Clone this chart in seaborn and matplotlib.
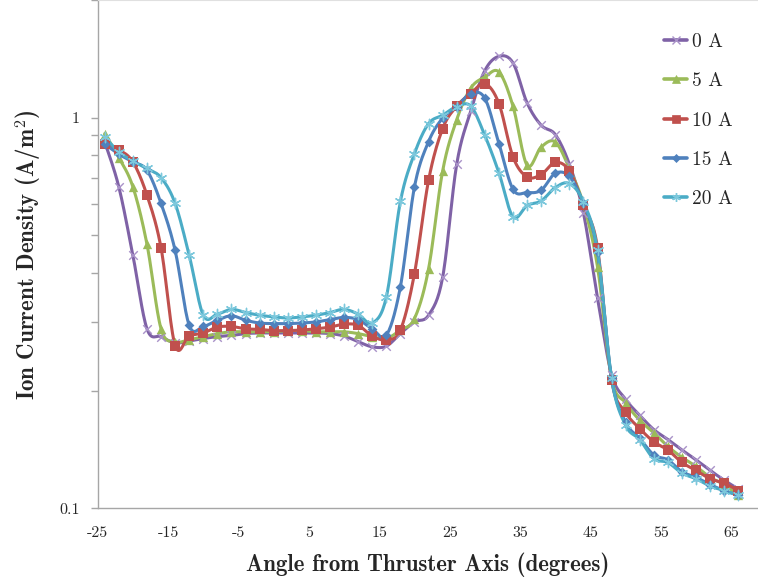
import numpy as np
import pandas as pd
import matplotlib
matplotlib.use("Agg")
import matplotlib.pyplot as plt
from matplotlib.lines import Line2D
import seaborn as sns

angles = list(range(-24, 67, 2))

s0 = [0.866, 0.665, 0.444, 0.288, 0.275, 0.265, 0.268, 0.272, 0.275, 0.277, 0.280, 0.281,
      0.281, 0.281, 0.281, 0.281, 0.280, 0.276, 0.267, 0.259, 0.260, 0.280, 0.300, 0.312,
      0.390, 0.760, 1.040, 1.320, 1.435, 1.380, 1.090, 0.956, 0.905, 0.760, 0.570, 0.345,
      0.220, 0.190, 0.173, 0.159, 0.150, 0.141, 0.133, 0.125, 0.118, 0.112]
s5 = [0.910, 0.790, 0.665, 0.474, 0.288, 0.267, 0.270, 0.275, 0.280, 0.283, 0.283, 0.283,
      0.283, 0.285, 0.285, 0.283, 0.283, 0.283, 0.280, 0.275, 0.272, 0.286, 0.306, 0.410,
      0.730, 0.988, 1.190, 1.270, 1.308, 1.069, 0.755, 0.841, 0.866, 0.741, 0.600, 0.415,
      0.215, 0.186, 0.168, 0.156, 0.144, 0.135, 0.128, 0.120, 0.115, 0.108]
s10 = [0.858, 0.828, 0.770, 0.633, 0.464, 0.261, 0.276, 0.281, 0.291, 0.292, 0.288, 0.287,
       0.285, 0.285, 0.286, 0.288, 0.291, 0.296, 0.294, 0.276, 0.270, 0.286, 0.399, 0.691,
       0.937, 1.070, 1.152, 1.222, 1.086, 0.793, 0.705, 0.715, 0.768, 0.731, 0.597, 0.465,
       0.213, 0.176, 0.160, 0.148, 0.141, 0.131, 0.125, 0.119, 0.116, 0.111]
s15 = [0.855, 0.806, 0.770, 0.733, 0.603, 0.457, 0.294, 0.292, 0.303, 0.311, 0.303, 0.298,
       0.297, 0.297, 0.298, 0.300, 0.304, 0.308, 0.304, 0.288, 0.277, 0.369, 0.665, 0.868,
       0.997, 1.067, 1.152, 1.120, 0.858, 0.655, 0.643, 0.652, 0.720, 0.707, 0.603, 0.453,
       0.215, 0.166, 0.151, 0.137, 0.133, 0.124, 0.120, 0.115, 0.111, 0.108]
s20 = [0.892, 0.817, 0.774, 0.741, 0.702, 0.603, 0.444, 0.312, 0.314, 0.323, 0.317, 0.312,
       0.309, 0.307, 0.309, 0.312, 0.317, 0.323, 0.314, 0.298, 0.347, 0.610, 0.809, 0.965,
       1.014, 1.067, 1.070, 0.900, 0.722, 0.557, 0.596, 0.612, 0.662, 0.678, 0.608, 0.457,
       0.215, 0.163, 0.150, 0.134, 0.131, 0.123, 0.119, 0.114, 0.111, 0.108]

labels = ["0 A", "5 A", "10 A", "15 A", "20 A"]
series = [s0, s5, s10, s15, s20]
colors = ["#7F62A6", "#9BBB59", "#C0504D", "#4F81BD", "#4BACC6"]
mcolors = ["#A992C8", "#9BBB59", "#C0504D", "#4F81BD", "#7CC8DC"]
markers = ["x", "^", "s", "D", (6, 2, 0)]
msizes = [38, 45, 55, 25, 55]
mews = [1.0, 0, 0, 0, 1.0]

xt = [-25, -15, -5, 5, 15, 25, 35, 45, 55, 65]


def smooth(x, y, n=16):
    x = np.asarray(x, float)
    ly = np.log10(np.asarray(y, float))
    P = np.column_stack([x, ly])
    P = np.vstack([P[0], P, P[-1]])
    out = []
    t = np.linspace(0, 1, n, endpoint=False)
    for i in range(1, len(P) - 2):
        p0, p1, p2, p3 = P[i - 1], P[i], P[i + 1], P[i + 2]
        c1 = p1 + (p2 - p0) / 6
        c2 = p2 - (p3 - p1) / 6
        for tt in t:
            b = ((1 - tt) ** 3) * p1 + 3 * ((1 - tt) ** 2) * tt * c1 + 3 * (1 - tt) * tt ** 2 * c2 + tt ** 3 * p2
            out.append(b)
    out.append(P[-2])
    out = np.array(out)
    return out[:, 0], 10 ** out[:, 1]


sns.set_style("white")
plt.rcParams["axes.unicode_minus"] = False
plt.rcParams["mathtext.fontset"] = "cm"

fig = plt.figure(figsize=(7.58, 5.81), dpi=100)
ax = fig.add_axes([97.7 / 758, 1 - 508.3 / 581, 1 - 97.7 / 758, 508.3 / 581])

handles = []
for lab, vals, c, mc, m, ms, mw in zip(labels, series, colors, mcolors, markers, msizes, mews):
    sx, sy = smooth(angles, vals)
    dfl = pd.DataFrame({"angle": sx, "density": sy})
    sns.lineplot(data=dfl, x="angle", y="density", sort=False, estimator=None,
                 color=c, lw=2.2, ax=ax, legend=False, zorder=2)
    dfp = pd.DataFrame({"angle": angles, "density": vals})
    sns.scatterplot(data=dfp, x="angle", y="density", marker=m, s=ms, color=mc,
                    linewidth=mw, ax=ax, legend=False, zorder=3)
    handles.append(Line2D([0], [0], color=c, lw=2.6, marker=m,
                          markersize=np.sqrt(ms) * 0.85, markerfacecolor=mc, markeredgecolor=mc,
                          markeredgewidth=mw if mw > 0 else 0.5))

ax.set_yscale("log")
ax.set_xlim(-25, 68.8)
ax.set_ylim(0.1, 2.0)

ax.set_xticks(xt)
ax.set_xticklabels([str(v) for v in xt], fontfamily="cmr10", fontsize=11.5)
ax.set_yticks([0.1, 1])
ax.set_yticklabels(["0.1", "1"], fontfamily="cmr10", fontsize=11.5)
ax.set_yticks([0.2, 0.3, 0.4, 0.5, 0.6, 0.7, 0.8, 0.9, 2.0], minor=True)
ax.yaxis.set_minor_formatter(matplotlib.ticker.NullFormatter())
ax.tick_params(axis="y", which="both", direction="out", length=5, color="#A6A6A6",
               left=True, width=1)
ax.tick_params(axis="x", which="both", length=0, pad=13)
ax.tick_params(axis="y", which="major", pad=8)

for side in ["left", "bottom"]:
    ax.spines[side].set_color("#A6A6A6")
    ax.spines[side].set_linewidth(1.0)
ax.spines["right"].set_visible(False)
ax.spines["top"].set_color("#E0E0E0")

ax.set_xlabel("Angle from Thruster Axis (degrees)", fontfamily="cmb10", fontsize=16.5, labelpad=9)
ax.set_ylabel(r"Ion Current Density (A/m$^{\mathbf{2}}$)", fontfamily="cmb10", fontsize=16.5,
              labelpad=11)

leg = fig.legend(handles, labels, loc="upper left", bbox_to_anchor=(664 / 758, 1 - 33 / 581),
                 bbox_transform=fig.transFigure, frameon=False, borderaxespad=0, borderpad=0,
                 prop={"family": "cmr10", "size": 14}, handlelength=1.2, handletextpad=0.25,
                 labelspacing=1.1)

fig.savefig("out.png", dpi=100)
